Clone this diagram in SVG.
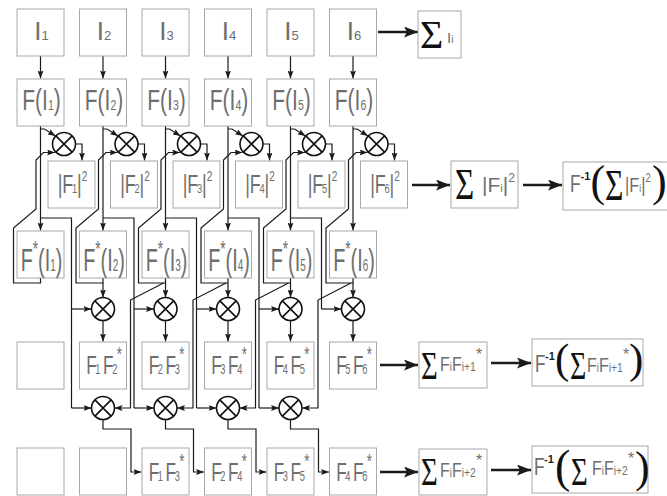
<svg xmlns="http://www.w3.org/2000/svg" xmlns:xlink="http://www.w3.org/1999/xlink" width="667" height="496" viewBox="0 0 667 496">
<style>
.bx{fill:#fff;stroke:#a8a8a8;stroke-width:1}
.t{font-family:"Liberation Sans",Arial,sans-serif;fill:#6e6e6e}
.s{font-family:"Liberation Serif","Times New Roman",serif;fill:#111}
.d{font-family:"Liberation Sans",Arial,sans-serif;fill:#222;font-weight:bold}
.c{fill:none;stroke:#1a1a1a;stroke-width:1.2;marker-end:url(#a)}
.n{fill:none;stroke:#1a1a1a;stroke-width:1.2}
.big{fill:none;stroke:#1a1a1a;stroke-width:2.6;marker-end:url(#A)}
.mul circle{fill:#fff;stroke:#111;stroke-width:1.6}
.mul path{stroke:#111;stroke-width:1.6;fill:none}
</style>
<defs>
<marker id="a" viewBox="0 0 8 6" refX="8" refY="3" markerWidth="8" markerHeight="6" markerUnits="userSpaceOnUse" orient="auto"><path d="M0,0 L8,3 L0,6 L1.5,3 Z" fill="#1a1a1a"/></marker>
<marker id="A" viewBox="0 0 14 11" refX="14" refY="5.5" markerWidth="14" markerHeight="11" markerUnits="userSpaceOnUse" orient="auto"><path d="M0,0 L14,5.5 L0,11 L3,5.5 Z" fill="#1a1a1a"/></marker>
<g id="m" class="mul"><circle r="11.5"/><path d="M-8.1,-8.1 L8.1,8.1 M-8.1,8.1 L8.1,-8.1"/></g>
</defs>
<rect width="667" height="496" fill="#fff"/>

<g id="connectors">
<path class="c" d="M40.5,56 V78.5"/><path class="c" d="M103,56 V78.5"/><path class="c" d="M165.5,56 V78.5"/><path class="c" d="M228,56 V78.5"/><path class="c" d="M290.5,56 V78.5"/><path class="c" d="M353,56 V78.5"/>
<path class="c" d="M40.5,126 V230.5"/><path class="c" d="M103,126 V230.5"/><path class="c" d="M165.5,126 V230.5"/><path class="c" d="M228,126 V230.5"/><path class="c" d="M290.5,126 V230.5"/><path class="c" d="M353,126 V230.5"/>
<path class="c" d="M40.5,129 H44.5 L55.5,136"/><path class="c" d="M103,129 H107 L118,136"/><path class="c" d="M165.5,129 H169.5 L180.5,136"/><path class="c" d="M228,129 H232 L243,136"/><path class="c" d="M290.5,129 H294.5 L305.5,136"/><path class="c" d="M353,129 H357 L368,136"/>
<path class="c" d="M75.5,144 H82 V160.5"/><path class="c" d="M138,144 H144.5 V160.5"/><path class="c" d="M200.5,144 H207 V160.5"/><path class="c" d="M263,144 H269.5 V160.5"/><path class="c" d="M325.5,144 H332 V160.5"/><path class="c" d="M388,144 H394.5 V160.5"/>
<path class="c" d="M40.5,278 V283 H13.5 V228 L36,209 V160 L43.5,152.5 H55"/>
<path class="c" d="M103,278 V283 H76 V228 L98.5,209 V160 L106,152.5 H117.5"/>
<path class="c" d="M165.5,278 V283 H138.5 V228 L161,209 V160 L168.5,152.5 H180"/>
<path class="c" d="M228,278 V283 H201 V228 L223.5,209 V160 L231,152.5 H242.5"/>
<path class="c" d="M290.5,278 V283 H263.5 V228 L286,209 V160 L293.5,152.5 H305"/>
<path class="c" d="M353,278 V283 H326 V228 L348.5,209 V160 L356,152.5 H367.5"/>
<path class="n" d="M40.5,218 H71.5 V408"/><path class="c" d="M71.5,309 H91.5"/><path class="c" d="M71.5,408 H91.5"/>
<path class="n" d="M103,218 H134 V408"/><path class="c" d="M134,309 H154"/><path class="c" d="M134,408 H154"/>
<path class="n" d="M165.5,218 H196.5 V408"/><path class="c" d="M196.5,309 H216.5"/><path class="c" d="M196.5,408 H216.5"/>
<path class="n" d="M228,218 H259 V408"/><path class="c" d="M259,309 H279"/><path class="c" d="M259,408 H279"/>
<path class="n" d="M290.5,218 H321.5 V309"/><path class="c" d="M321.5,309 H341.5"/>
<path class="c" d="M103,283 V297.5"/><path class="c" d="M165.5,283 V297.5"/><path class="c" d="M228,283 V297.5"/><path class="c" d="M290.5,283 V297.5"/><path class="c" d="M353,283 V297.5"/>
<path class="c" d="M163.5,283 L130.5,300 V408 H114.5"/>
<path class="c" d="M226,283 L193,300 V408 H177"/>
<path class="c" d="M288.5,283 L255.5,300 V408 H239.5"/>
<path class="c" d="M351,283 L318,300 V408 H302"/>
<path class="c" d="M103,320.5 V341.5"/><path class="c" d="M165.5,320.5 V341.5"/><path class="c" d="M228,320.5 V341.5"/><path class="c" d="M290.5,320.5 V341.5"/><path class="c" d="M353,320.5 V341.5"/>
<path class="c" d="M103,419.5 V429 H131 V472 H141.5"/>
<path class="c" d="M165.5,419.5 V429 H193.5 V472 H204"/>
<path class="c" d="M228,419.5 V429 H256 V472 H266.5"/>
<path class="c" d="M290.5,419.5 V429 H318.5 V472 H329"/>
<path class="big" d="M378,32 H418"/>
<path class="big" d="M412,185 H450"/>
<path class="big" d="M523,185 H562"/>
<path class="big" d="M380,365 H418"/>
<path class="big" d="M491,363 H531"/>
<path class="big" d="M380,472 H418"/>
<path class="big" d="M491,470 H531"/>
</g>

<g id="mA1"><use xlink:href="#m" x="64" y="144"/></g>
<g id="mA2"><use xlink:href="#m" x="126.5" y="144"/></g>
<g id="mA3"><use xlink:href="#m" x="189" y="144"/></g>
<g id="mA4"><use xlink:href="#m" x="251.5" y="144"/></g>
<g id="mA5"><use xlink:href="#m" x="314" y="144"/></g>
<g id="mA6"><use xlink:href="#m" x="376.5" y="144"/></g>
<g id="mB1"><use xlink:href="#m" x="103" y="309"/></g>
<g id="mB2"><use xlink:href="#m" x="165.5" y="309"/></g>
<g id="mB3"><use xlink:href="#m" x="228" y="309"/></g>
<g id="mB4"><use xlink:href="#m" x="290.5" y="309"/></g>
<g id="mB5"><use xlink:href="#m" x="353" y="309"/></g>
<g id="mC1"><use xlink:href="#m" x="103" y="408"/></g>
<g id="mC2"><use xlink:href="#m" x="165.5" y="408"/></g>
<g id="mC3"><use xlink:href="#m" x="228" y="408"/></g>
<g id="mC4"><use xlink:href="#m" x="290.5" y="408"/></g>

<g id="I1"><rect class="bx" x="17" y="9" width="47" height="47"/><text class="t" x="41.5" y="40" font-size="26" text-anchor="middle">I<tspan font-size="13">1</tspan></text></g>
<g id="I2"><rect class="bx" x="79.5" y="9" width="47" height="47"/><text class="t" x="104" y="40" font-size="26" text-anchor="middle">I<tspan font-size="13">2</tspan></text></g>
<g id="I3"><rect class="bx" x="142" y="9" width="47" height="47"/><text class="t" x="166.5" y="40" font-size="26" text-anchor="middle">I<tspan font-size="13">3</tspan></text></g>
<g id="I4"><rect class="bx" x="204.5" y="9" width="47" height="47"/><text class="t" x="229" y="40" font-size="26" text-anchor="middle">I<tspan font-size="13">4</tspan></text></g>
<g id="I5"><rect class="bx" x="267" y="9" width="47" height="47"/><text class="t" x="291.5" y="40" font-size="26" text-anchor="middle">I<tspan font-size="13">5</tspan></text></g>
<g id="I6"><rect class="bx" x="329.5" y="9" width="47" height="47"/><text class="t" x="354" y="40" font-size="26" text-anchor="middle">I<tspan font-size="13">6</tspan></text></g>
<g id="sumI"><rect class="bx" x="418" y="11" width="43" height="47"/><text class="s" x="420" y="48" font-size="40">Σ</text><text class="t" x="447" y="43" font-size="15">I<tspan font-size="10">i</tspan></text></g>

<g id="FI1"><rect class="bx" x="17" y="79" width="47" height="47"/><text class="t" transform="translate(41.5,110) scale(0.7,1)" font-size="30" text-anchor="middle">F(I<tspan font-size="15">1</tspan>)</text></g>
<g id="FI2"><rect class="bx" x="79.5" y="79" width="47" height="47"/><text class="t" transform="translate(104,110) scale(0.7,1)" font-size="30" text-anchor="middle">F(I<tspan font-size="15">2</tspan>)</text></g>
<g id="FI3"><rect class="bx" x="142" y="79" width="47" height="47"/><text class="t" transform="translate(166.5,110) scale(0.7,1)" font-size="30" text-anchor="middle">F(I<tspan font-size="15">3</tspan>)</text></g>
<g id="FI4"><rect class="bx" x="204.5" y="79" width="47" height="47"/><text class="t" transform="translate(229,110) scale(0.7,1)" font-size="30" text-anchor="middle">F(I<tspan font-size="15">4</tspan>)</text></g>
<g id="FI5"><rect class="bx" x="267" y="79" width="47" height="47"/><text class="t" transform="translate(291.5,110) scale(0.7,1)" font-size="30" text-anchor="middle">F(I<tspan font-size="15">5</tspan>)</text></g>
<g id="FI6"><rect class="bx" x="329.5" y="79" width="47" height="47"/><text class="t" transform="translate(354,110) scale(0.7,1)" font-size="30" text-anchor="middle">F(I<tspan font-size="15">6</tspan>)</text></g>

<g id="P1"><rect class="bx" x="48" y="161" width="47" height="47"/><text class="t" transform="translate(72.5,193) scale(0.72,1)" font-size="25" text-anchor="middle">|F<tspan font-size="13" dx="-2">1</tspan>|<tspan font-size="14" dy="-12">2</tspan></text></g>
<g id="P2"><rect class="bx" x="110.5" y="161" width="47" height="47"/><text class="t" transform="translate(135,193) scale(0.72,1)" font-size="25" text-anchor="middle">|F<tspan font-size="13" dx="-2">2</tspan>|<tspan font-size="14" dy="-12">2</tspan></text></g>
<g id="P3"><rect class="bx" x="173" y="161" width="47" height="47"/><text class="t" transform="translate(197.5,193) scale(0.72,1)" font-size="25" text-anchor="middle">|F<tspan font-size="13" dx="-2">3</tspan>|<tspan font-size="14" dy="-12">2</tspan></text></g>
<g id="P4"><rect class="bx" x="235.5" y="161" width="47" height="47"/><text class="t" transform="translate(260,193) scale(0.72,1)" font-size="25" text-anchor="middle">|F<tspan font-size="13" dx="-2">4</tspan>|<tspan font-size="14" dy="-12">2</tspan></text></g>
<g id="P5"><rect class="bx" x="298" y="161" width="47" height="47"/><text class="t" transform="translate(322.5,193) scale(0.72,1)" font-size="25" text-anchor="middle">|F<tspan font-size="13" dx="-2">5</tspan>|<tspan font-size="14" dy="-12">2</tspan></text></g>
<g id="P6"><rect class="bx" x="360.5" y="161" width="47" height="47"/><text class="t" transform="translate(385,193) scale(0.72,1)" font-size="25" text-anchor="middle">|F<tspan font-size="13" dx="-2">6</tspan>|<tspan font-size="14" dy="-12">2</tspan></text></g>
<g id="sumP"><rect class="bx" x="451" y="161" width="67" height="47"/><text class="s" transform="translate(455,199) scale(0.75,1)" font-size="44">Σ</text><text class="t" x="482" y="192" font-size="21">|F<tspan font-size="11">i</tspan>|<tspan font-size="12" dy="-10">2</tspan></text></g>
<g id="invP"><rect class="bx" x="563" y="162" width="112" height="48"/><text class="t" transform="translate(570,192) scale(0.72,1)" font-size="24">F</text><text class="d" x="580.5" y="180" font-size="11">-1</text><text class="s" x="590.5" y="196" font-size="44">(</text><text class="s" transform="translate(605,200) scale(0.72,1)" font-size="44">Σ</text><text class="t" transform="translate(625,192) scale(0.78,1)" font-size="21">|F<tspan font-size="11">i</tspan>|<tspan font-size="12" dy="-10">2</tspan></text><text class="s" x="652" y="196" font-size="44">)</text></g>

<g id="FC1"><rect class="bx" x="17" y="231" width="47" height="47"/><text class="t" transform="translate(41.5,271) scale(0.62,1)" font-size="32" text-anchor="middle">F<tspan font-size="22" dy="-15">*</tspan><tspan dy="15">(I</tspan><tspan font-size="16">1</tspan>)</text></g>
<g id="FC2"><rect class="bx" x="79.5" y="231" width="47" height="47"/><text class="t" transform="translate(104,271) scale(0.62,1)" font-size="32" text-anchor="middle">F<tspan font-size="22" dy="-15">*</tspan><tspan dy="15">(I</tspan><tspan font-size="16">2</tspan>)</text></g>
<g id="FC3"><rect class="bx" x="142" y="231" width="47" height="47"/><text class="t" transform="translate(166.5,271) scale(0.62,1)" font-size="32" text-anchor="middle">F<tspan font-size="22" dy="-15">*</tspan><tspan dy="15">(I</tspan><tspan font-size="16">3</tspan>)</text></g>
<g id="FC4"><rect class="bx" x="204.5" y="231" width="47" height="47"/><text class="t" transform="translate(229,271) scale(0.62,1)" font-size="32" text-anchor="middle">F<tspan font-size="22" dy="-15">*</tspan><tspan dy="15">(I</tspan><tspan font-size="16">4</tspan>)</text></g>
<g id="FC5"><rect class="bx" x="267" y="231" width="47" height="47"/><text class="t" transform="translate(291.5,271) scale(0.62,1)" font-size="32" text-anchor="middle">F<tspan font-size="22" dy="-15">*</tspan><tspan dy="15">(I</tspan><tspan font-size="16">5</tspan>)</text></g>
<g id="FC6"><rect class="bx" x="329.5" y="231" width="47" height="47"/><text class="t" transform="translate(354,271) scale(0.62,1)" font-size="32" text-anchor="middle">F<tspan font-size="22" dy="-15">*</tspan><tspan dy="15">(I</tspan><tspan font-size="16">6</tspan>)</text></g>

<g id="D1"><rect class="bx" x="17" y="342" width="47" height="47"/></g>
<g id="D2"><rect class="bx" x="79.5" y="342" width="47" height="47"/><text class="t" transform="translate(104,374) scale(0.66,1)" font-size="26" text-anchor="middle">F<tspan font-size="14" dx="-2">1</tspan><tspan dx="4">F</tspan><tspan font-size="14" dx="-2">2</tspan><tspan font-size="20" dx="-1" dy="-13">*</tspan></text></g>
<g id="D3"><rect class="bx" x="142" y="342" width="47" height="47"/><text class="t" transform="translate(166.5,374) scale(0.66,1)" font-size="26" text-anchor="middle">F<tspan font-size="14" dx="-2">2</tspan><tspan dx="4">F</tspan><tspan font-size="14" dx="-2">3</tspan><tspan font-size="20" dx="-1" dy="-13">*</tspan></text></g>
<g id="D4"><rect class="bx" x="204.5" y="342" width="47" height="47"/><text class="t" transform="translate(229,374) scale(0.66,1)" font-size="26" text-anchor="middle">F<tspan font-size="14" dx="-2">3</tspan><tspan dx="4">F</tspan><tspan font-size="14" dx="-2">4</tspan><tspan font-size="20" dx="-1" dy="-13">*</tspan></text></g>
<g id="D5"><rect class="bx" x="267" y="342" width="47" height="47"/><text class="t" transform="translate(291.5,374) scale(0.66,1)" font-size="26" text-anchor="middle">F<tspan font-size="14" dx="-2">4</tspan><tspan dx="4">F</tspan><tspan font-size="14" dx="-2">5</tspan><tspan font-size="20" dx="-1" dy="-13">*</tspan></text></g>
<g id="D6"><rect class="bx" x="329.5" y="342" width="47" height="47"/><text class="t" transform="translate(354,374) scale(0.66,1)" font-size="26" text-anchor="middle">F<tspan font-size="14" dx="-2">5</tspan><tspan dx="4">F</tspan><tspan font-size="14" dx="-2">6</tspan><tspan font-size="20" dx="-1" dy="-13">*</tspan></text></g>
<g id="sumD"><rect class="bx" x="419" y="342" width="68" height="46"/><text class="s" transform="translate(421,379) scale(0.72,1)" font-size="40">Σ</text><text class="t" transform="translate(440,371) scale(0.8,1)" font-size="20">F<tspan font-size="12">i</tspan>F<tspan font-size="13">i+1</tspan></text><text class="t" x="476" y="360" font-size="16">*</text></g>
<g id="invD"><rect class="bx" x="532" y="339" width="111" height="47"/><text class="t" transform="translate(535,372) scale(0.72,1)" font-size="24">F</text><text class="d" x="545" y="360" font-size="11">-1</text><text class="s" x="555" y="373" font-size="43">(</text><text class="s" transform="translate(570,379) scale(0.7,1)" font-size="40">Σ</text><text class="t" transform="translate(587,372) scale(0.8,1)" font-size="20">F<tspan font-size="12">i</tspan>F<tspan font-size="13">i+1</tspan></text><text class="t" x="623" y="360" font-size="16">*</text><text class="s" x="629" y="373" font-size="43">)</text></g>

<g id="E1"><rect class="bx" x="17" y="448" width="47" height="47"/></g>
<g id="E2"><rect class="bx" x="79.5" y="448" width="47" height="47"/></g>
<g id="E3"><rect class="bx" x="142" y="448" width="47" height="47"/><text class="t" transform="translate(166.5,481) scale(0.66,1)" font-size="26" text-anchor="middle">F<tspan font-size="14" dx="-2">1</tspan><tspan dx="4">F</tspan><tspan font-size="14" dx="-2">3</tspan><tspan font-size="20" dx="-1" dy="-13">*</tspan></text></g>
<g id="E4"><rect class="bx" x="204.5" y="448" width="47" height="47"/><text class="t" transform="translate(229,481) scale(0.66,1)" font-size="26" text-anchor="middle">F<tspan font-size="14" dx="-2">2</tspan><tspan dx="4">F</tspan><tspan font-size="14" dx="-2">4</tspan><tspan font-size="20" dx="-1" dy="-13">*</tspan></text></g>
<g id="E5"><rect class="bx" x="267" y="448" width="47" height="47"/><text class="t" transform="translate(291.5,481) scale(0.66,1)" font-size="26" text-anchor="middle">F<tspan font-size="14" dx="-2">3</tspan><tspan dx="4">F</tspan><tspan font-size="14" dx="-2">5</tspan><tspan font-size="20" dx="-1" dy="-13">*</tspan></text></g>
<g id="E6"><rect class="bx" x="329.5" y="448" width="47" height="47"/><text class="t" transform="translate(354,481) scale(0.66,1)" font-size="26" text-anchor="middle">F<tspan font-size="14" dx="-2">4</tspan><tspan dx="4">F</tspan><tspan font-size="14" dx="-2">6</tspan><tspan font-size="20" dx="-1" dy="-13">*</tspan></text></g>
<g id="sumE"><rect class="bx" x="419" y="449" width="68" height="46"/><text class="s" transform="translate(421,485) scale(0.72,1)" font-size="40">Σ</text><text class="t" transform="translate(440,477) scale(0.8,1)" font-size="20">F<tspan font-size="12">i</tspan>F<tspan font-size="13">i+2</tspan></text><text class="t" x="476" y="466" font-size="16">*</text></g>
<g id="invE"><rect class="bx" x="532" y="446" width="116" height="47"/><text class="t" transform="translate(534,475) scale(0.72,1)" font-size="24">F</text><text class="d" x="544" y="463" font-size="11">-1</text><text class="s" x="555" y="482" font-size="46">(</text><text class="s" transform="translate(571,485) scale(0.72,1)" font-size="40">Σ</text><text class="t" transform="translate(592,475) scale(0.8,1)" font-size="20">F<tspan font-size="12">i</tspan>F<tspan font-size="13">i+2</tspan></text><text class="t" x="628" y="464" font-size="16">*</text><text class="s" x="635" y="482" font-size="44">)</text></g>
</svg>
